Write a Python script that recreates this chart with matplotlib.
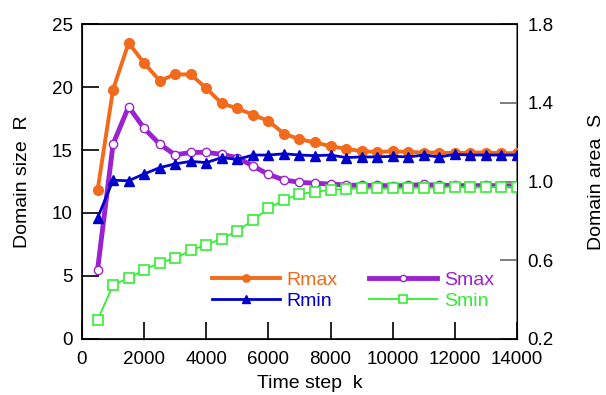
import matplotlib
matplotlib.use("Agg")
import matplotlib.pyplot as plt

plt.rcParams['font.family'] = ['Liberation Sans', 'DejaVu Sans']

# time steps
k = [500, 1000, 1500, 2000, 2500, 3000, 3500, 4000, 4500, 5000, 5500, 6000, 6500,
     7000, 7500, 8000, 8500, 9000, 9500, 10000, 10500, 11000, 11500, 12000,
     12500, 13000, 13500, 14000]

# domain size (left axis)
r_max = [11.8, 19.8, 23.5, 21.9, 20.5, 21.0, 21.0, 19.9, 18.7, 18.3, 17.8, 17.3, 16.3,
         15.85, 15.6, 15.3, 15.1, 14.9, 14.85, 14.9, 14.85, 14.8, 14.8, 14.75,
         14.8, 14.8, 14.75, 14.75]
r_min = [9.6, 12.6, 12.56, 13.1, 13.6, 13.9, 14.1, 14.0, 14.4, 14.25, 14.6, 14.6, 14.7,
         14.6, 14.55, 14.6, 14.4, 14.45, 14.45, 14.5, 14.45, 14.6, 14.45, 14.65,
         14.6, 14.6, 14.6, 14.6]

# domain area (right axis)
s_max = [0.55, 1.19, 1.38, 1.27, 1.19, 1.135, 1.148, 1.148, 1.138, 1.121, 1.079, 1.036,
         1.008, 0.996, 0.991, 0.987, 0.982, 0.98, 0.98, 0.978, 0.98, 0.985, 0.98,
         0.98, 0.978, 0.98, 0.978, 0.978]
s_min = [0.296, 0.474, 0.51, 0.55, 0.588, 0.61, 0.65, 0.679, 0.709, 0.749, 0.803, 0.864,
         0.906, 0.936, 0.948, 0.957, 0.962, 0.965, 0.965, 0.965, 0.968, 0.968, 0.968,
         0.974, 0.97, 0.97, 0.974, 0.97]

orange = '#f26a1b'
blue = '#0000cc'
purple = '#9b22d0'
green = '#33ee33'

fig = plt.figure(figsize=(6.06, 3.95), dpi=100)
ax = fig.add_axes([0.1353, 0.1418, 0.7178, 0.7974])
ax2 = ax.twinx()

# R series on the left axis
l1, = ax.plot(k, r_max, color=orange, lw=2.8, marker='o', ms=7, label='Rmax', zorder=4)
l2, = ax.plot(k, r_min, color=blue, lw=2.0, marker='^', ms=7.5, label='Rmin', zorder=5)

# S series on the right axis
l3, = ax2.plot(k, s_max, color=purple, lw=3.5, marker='o', ms=6, mfc='white',
               mec=purple, mew=1.0, label='Smax', zorder=3)
l4, = ax2.plot(k, s_min, color=green, lw=1.3, marker='s', ms=7, mfc='white',
               mec=green, mew=1.2, label='Smin', zorder=3)

ax.set_zorder(ax2.get_zorder() + 1)
ax.patch.set_visible(False)

ax.set_xlim(0, 14000)
ax.set_ylim(0, 25)
ax2.set_ylim(0.2, 1.8)
ax.set_xticks(range(0, 14001, 2000))
ax.set_yticks(range(0, 26, 5))
ax2.set_yticks([0.2, 0.6, 1.0, 1.4, 1.8])
ax2.set_yticklabels(['0.2', '0.6', '1.0', '1.4', '1.8'])

ax.tick_params(axis='both', direction='in', length=12, width=1.2, labelsize=13.5,
               colors='black', pad=6.5, right=False, top=False)
ax.tick_params(axis='x', pad=8.5)
ax2.tick_params(axis='y', direction='in', length=12, width=1.2, labelsize=13.5,
                color='#666666', labelcolor='black', pad=7.5)
ax2.spines['right'].set_color('#666666')
for s in ['left', 'bottom', 'top']:
    ax.spines[s].set_linewidth(1.2)
ax2.spines['right'].set_linewidth(1.2)

ax.set_ylabel('Domain size  R', fontsize=14, labelpad=15)
ax2.set_ylabel('Domain area  S', fontsize=14, labelpad=25)
ax.set_xlabel('Time step  k', fontsize=14, labelpad=5, x=0.523)

leg = ax.legend(handles=[l1, l2, l3, l4], ncol=2, frameon=False, fontsize=14,
                loc='upper left', bbox_to_anchor=(0.298, 0.214), borderaxespad=0,
                handlelength=3.5, handletextpad=0.36, columnspacing=1.6,
                labelspacing=0.15, borderpad=0, markerscale=0.75)
for txt, c in zip(leg.get_texts(), [orange, blue, purple, green]):
    txt.set_color(c)
for line in leg.get_lines():
    line.set_markevery([1])

fig.savefig('out.png', dpi=100)
